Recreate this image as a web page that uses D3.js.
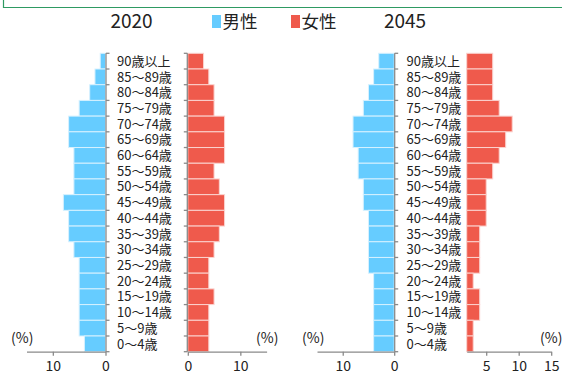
<!DOCTYPE html>
<html>
<head>
<meta charset="utf-8">
<script src="https://cdn.jsdelivr.net/npm/d3@7"></script>
<style>
  html, body { margin: 0; padding: 0; background: #fff; }
  svg { display: block; }
  text { font-family: "Noto Sans CJK JP", "Noto Sans", sans-serif; fill: #222; }
</style>
</head>
<body>
<svg id="chart" width="562" height="374"></svg>
<script>
// Age groups, top (oldest) to bottom (youngest)
const ageGroups = ["90歳以上", "85～89歳", "80～84歳", "75～79歳", "70～74歳", "65～69歳",
  "60～64歳", "55～59歳", "50～54歳", "45～49歳", "40～44歳", "35～39歳", "30～34歳",
  "25～29歳", "20～24歳", "15～19歳", "10～14歳", "5～9歳", "0～4歳"];

// Share of population by age group (%)
const male2020   = [1, 2, 3, 5, 7, 7, 6, 6, 6, 8, 7, 7, 6, 5, 5, 5, 5, 5, 4];
const female2020 = [3, 4, 5, 5, 7, 7, 7, 5, 6, 7, 7, 6, 5, 4, 4, 5, 4, 4, 4];
const male2045   = [3, 4, 5, 6, 8, 8, 7, 7, 6, 6, 5, 5, 5, 5, 4, 4, 4, 4, 4];
const female2045 = [6, 6, 6, 7, 9, 8, 7, 6, 5, 5, 5, 4, 4, 4, 3, 4, 4, 3, 3];

const years = ["2020", "2045"];
const legendLabels = ["男性", "女性"];
const ticks2020Male = [0, 10];
const ticks2020Female = [0, 10];
const ticks2045Male = [0, 10];
const ticks2045Female = [5, 10, 15];

const MALE = "#66ccff";
const FEMALE = "#ef5a4c";
const AXIS = "#8a8a8a";

const svg = d3.select("#chart");

// frame line of the box above the chart
svg.append("path")
  .attr("d", "M3.5,-2 V7.5 H570")
  .attr("fill", "none")
  .attr("stroke", "#2e9a62")
  .attr("stroke-width", 1.2);

const y = d3.scaleBand().domain(ageGroups).range([53.3, 351.7]).padding(0);
const axisY = 351.7;

const panels = [
  { male: male2020, female: female2020,
    xm: d3.scaleLinear().domain([0, 15]).range([105.5, 26.5]),
    xf: d3.scaleLinear().domain([0, 15]).range([187.8, 266.6]),
    mt: ticks2020Male, ft: ticks2020Female, femaleSpine: true,
    labelX: 117, pctL: 11, pctR: 256 },
  { male: male2045, female: female2045,
    xm: d3.scaleLinear().domain([0, 15]).range([394.2, 317]),
    xf: d3.scaleLinear().domain([2, 15]).range([466.7, 551.2]),
    mt: ticks2045Male, ft: ticks2045Female, femaleSpine: false,
    labelX: 406.5, pctL: 302, pctR: 540 }
];

panels.forEach(p => {
  const g = svg.append("g");

  // male bars grow left from zero
  g.selectAll(".m").data(p.male).join("rect")
    .attr("x", d => p.xm(d))
    .attr("y", (d, i) => y(ageGroups[i]))
    .attr("width", d => p.xm(0) - p.xm(d))
    .attr("height", y.bandwidth())
    .attr("fill", MALE)
    .attr("stroke", "#d6f1ff")
    .attr("stroke-width", 1);

  // female bars grow right from the axis minimum
  const f0 = p.xf.domain()[0];
  g.selectAll(".f").data(p.female).join("rect")
    .attr("x", p.xf(f0))
    .attr("y", (d, i) => y(ageGroups[i]))
    .attr("width", d => p.xf(d) - p.xf(f0))
    .attr("height", y.bandwidth())
    .attr("fill", FEMALE)
    .attr("stroke", "#fbd3cf")
    .attr("stroke-width", 1);

  // horizontal value axes
  const axM = g.append("g").attr("transform", `translate(0,${axisY})`)
    .call(d3.axisBottom(p.xm).tickValues(p.mt).tickSize(4).tickSizeOuter(0).tickFormat(d3.format("d")));
  const axF = g.append("g").attr("transform", `translate(0,${axisY})`)
    .call(d3.axisBottom(p.xf).tickValues(p.ft).tickSize(4).tickSizeOuter(0).tickFormat(d3.format("d")));
  [axM, axF].forEach(ax => {
    ax.select(".domain").attr("stroke", AXIS).attr("stroke-width", 1.3);
    ax.selectAll(".tick line").attr("stroke", AXIS).attr("stroke-width", 1.3);
    ax.selectAll(".tick text").attr("y", 9).attr("dy", "0.71em")
      .style("font-family", "'Noto Sans CJK JP', sans-serif").style("font-size", "14px").attr("fill", "#222");
  });

  // vertical spines with category boundary ticks
  const bounds = ageGroups.map(a => y(a)).concat([y.range()[1]]);
  const spineM = p.xm(0) + 0.5;
  g.append("line").attr("x1", spineM).attr("x2", spineM)
    .attr("y1", bounds[0]).attr("y2", axisY).attr("stroke", AXIS).attr("stroke-width", 1.3);
  g.selectAll(".tm").data(bounds).join("line")
    .attr("x1", spineM).attr("x2", spineM + 3.5).attr("y1", d => d).attr("y2", d => d)
    .attr("stroke", AXIS).attr("stroke-width", 1.3);
  if (p.femaleSpine) {
    const spineF = p.xf(0) - 0.5;
    g.append("line").attr("x1", spineF).attr("x2", spineF)
      .attr("y1", bounds[0]).attr("y2", axisY).attr("stroke", AXIS).attr("stroke-width", 1.3);
    g.selectAll(".tf").data(bounds).join("line")
      .attr("x1", spineF).attr("x2", spineF - 3.5).attr("y1", d => d).attr("y2", d => d)
      .attr("stroke", AXIS).attr("stroke-width", 1.3);
  }

  // age group labels
  g.selectAll(".lab").data(ageGroups).join("text")
    .attr("x", p.labelX)
    .attr("y", d => y(d) + y.bandwidth() / 2)
    .attr("dy", "0.36em")
    .style("font-size", "13px")
    .text(d => d);

  // unit labels
  g.append("text").attr("x", p.pctL).attr("y", 338).attr("dy", "0.36em")
    .style("font-size", "14px").text("(%)");
  g.append("text").attr("x", p.pctR).attr("y", 338).attr("dy", "0.36em")
    .style("font-size", "14px").text("(%)");
});

// year titles
svg.append("text").attr("x", 131.5).attr("y", 28).attr("text-anchor", "middle")
  .style("font-size", "19px").text(years[0]);
svg.append("text").attr("x", 405).attr("y", 28).attr("text-anchor", "middle")
  .style("font-size", "19px").text(years[1]);

// legend
const legend = [
  { label: legendLabels[0], color: MALE, x: 212 },
  { label: legendLabels[1], color: FEMALE, x: 291 }
];
legend.forEach(l => {
  svg.append("rect").attr("x", l.x).attr("y", 15).attr("width", 9).attr("height", 13).attr("fill", l.color);
  svg.append("text").attr("x", l.x + 10.5).attr("y", 28).style("font-size", "17.5px").text(l.label);
});
</script>
</body>
</html>
